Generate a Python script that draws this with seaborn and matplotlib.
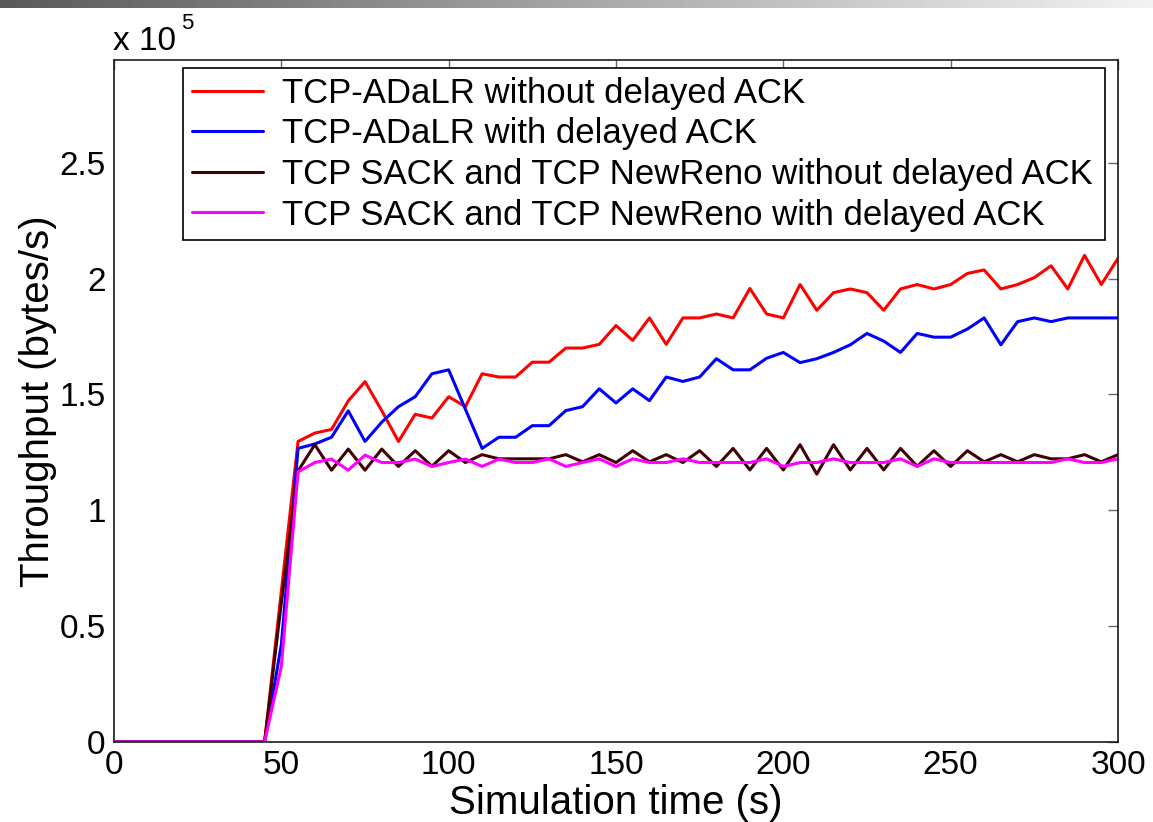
import numpy as np
import pandas as pd
import matplotlib
matplotlib.use("Agg")
import matplotlib.pyplot as plt
from matplotlib.legend_handler import HandlerLine2D
import seaborn as sns

# ---------------- data (throughput in units of 1e5 bytes/s) ----------------
time_s = list(range(0, 301, 5))
zeros = [0.0] * 10  # t = 0..45 s

adalr_no_delack = zeros + [
    0.65, 1.297, 1.333, 1.349, 1.472, 1.555, 1.43, 1.297, 1.414, 1.398,
    1.49, 1.447, 1.589, 1.575, 1.575, 1.639, 1.639, 1.70, 1.70, 1.716,
    1.797, 1.733, 1.83, 1.716, 1.83, 1.83, 1.847, 1.83, 1.957, 1.847,
    1.83, 1.974, 1.863, 1.939, 1.955, 1.939, 1.863, 1.955, 1.974, 1.955,
    1.974, 2.022, 2.037, 1.955, 1.974, 2.004, 2.055, 1.955, 2.10, 1.974,
    2.087]
adalr_delack = zeros + [
    0.42, 1.267, 1.286, 1.315, 1.429, 1.297, 1.38, 1.447, 1.49, 1.589,
    1.606, 1.436, 1.267, 1.315, 1.315, 1.365, 1.365, 1.43, 1.447, 1.524,
    1.463, 1.524, 1.473, 1.575, 1.556, 1.575, 1.654, 1.606, 1.606, 1.656,
    1.681, 1.637, 1.654, 1.681, 1.714, 1.763, 1.73, 1.681, 1.763, 1.747,
    1.747, 1.782, 1.83, 1.714, 1.814, 1.83, 1.814, 1.83, 1.83, 1.83,
    1.83]
sack_no_delack = zeros + [
    0.60, 1.17, 1.283, 1.173, 1.264, 1.173, 1.264, 1.189, 1.257, 1.19,
    1.257, 1.206, 1.24, 1.222, 1.222, 1.222, 1.222, 1.24, 1.209, 1.24,
    1.206, 1.257, 1.209, 1.24, 1.206, 1.257, 1.189, 1.267, 1.174, 1.267,
    1.174, 1.283, 1.156, 1.283, 1.174, 1.267, 1.174, 1.267, 1.19, 1.257,
    1.189, 1.257, 1.209, 1.24, 1.209, 1.24, 1.222, 1.222, 1.24, 1.209,
    1.24]
sack_delack = zeros + [
    0.326, 1.166, 1.206, 1.221, 1.173, 1.238, 1.206, 1.206, 1.221, 1.189,
    1.206, 1.221, 1.189, 1.221, 1.206, 1.206, 1.222, 1.189, 1.206, 1.222,
    1.189, 1.222, 1.206, 1.206, 1.222, 1.206, 1.206, 1.206, 1.206, 1.222,
    1.189, 1.206, 1.206, 1.222, 1.206, 1.206, 1.206, 1.222, 1.189, 1.222,
    1.206, 1.206, 1.206, 1.206, 1.206, 1.206, 1.206, 1.222, 1.206, 1.206,
    1.222]

series_names = [
    "TCP-ADaLR without delayed ACK",
    "TCP-ADaLR with delayed ACK",
    "TCP SACK and TCP NewReno without delayed ACK",
    "TCP SACK and TCP NewReno with delayed ACK",
]
series_colors = ["#FF0000", "#0000FF", "#420000", "#FF00FF"]
y_ticks = [0, 0.5, 1, 1.5, 2, 2.5]
y_tick_labels = ["0", "0.5", "1", "1.5", "2", "2.5"]
x_ticks = [0, 50, 100, 150, 200, 250, 300]
SCALE = 1e5

# ---------------- build long table ----------------
frames = []
for name, vals in zip(series_names,
                      [adalr_no_delack, adalr_delack, sack_no_delack, sack_delack]):
    frames.append(pd.DataFrame({"time": time_s,
                                "throughput": np.array(vals) * SCALE,
                                "series": name}))
df = pd.concat(frames, ignore_index=True)

# ---------------- style ----------------
sns.set_style("white")
plt.rcParams["font.family"] = ["Liberation Sans", "DejaVu Sans"]
plt.rcParams["text.color"] = "black"
plt.rcParams["axes.labelcolor"] = "black"

W, H = 1153, 822
fig = plt.figure(figsize=(W / 100, H / 100), dpi=100)
ax = fig.add_axes([114 / W, 1 - 742 / H, (1118 - 114) / W, (742 - 60) / H])

sns.lineplot(data=df, x="time", y="throughput", hue="series",
             hue_order=series_names, palette=series_colors,
             linewidth=2.2, ax=ax, legend=True)

ax.set_xlim(0, 300)
ax.set_ylim(0, 2.943 * SCALE)
ax.set_xticks(x_ticks)
ax.set_xticklabels([str(v) for v in x_ticks])
ax.set_yticks([v * SCALE for v in y_ticks])
ax.set_yticklabels(y_tick_labels)
ax.tick_params(axis="both", which="both", direction="in", length=7, width=1,
               color="#666666", labelsize=24, top=True, right=True,
               labelcolor="black", pad=6)
for sp in ax.spines.values():
    sp.set_visible(True)
    sp.set_color("#1a1a1a")
    sp.set_linewidth(1.2)

ax.set_xlabel("Simulation time (s)", fontsize=29, labelpad=2)
ax.set_ylabel("Throughput (bytes/s)", fontsize=29, labelpad=2)

# exponent label
fig.text(113 / W, 1 - 50 / H, "x 10", fontsize=24, ha="left", va="baseline")
fig.text(181 / W, 1 - 29 / H, "5", fontsize=16, ha="left", va="baseline")


class ShiftedLineHandler(HandlerLine2D):
    """Legend line drawn with a small gap on its left side."""
    def create_artists(self, legend, orig_handle, xdescent, ydescent,
                       width, height, fontsize, trans):
        arts = super().create_artists(legend, orig_handle, xdescent, ydescent,
                                      width, height, fontsize, trans)
        for a in arts:
            xd = np.asarray(a.get_xdata(), dtype=float)
            if xd.size == 2:
                a.set_xdata([xd[0] + 9, xd[1]])
        return arts


handles, labels = ax.get_legend_handles_labels()
leg = ax.legend(handles, labels, loc="upper left",
                bbox_to_anchor=(183 / W, 1 - 238 / H, (1105 - 183) / W, 170 / H),
                bbox_transform=fig.transFigure, mode="expand",
                handler_map={h: ShiftedLineHandler() for h in handles},
                fontsize=25, frameon=True, fancybox=False, framealpha=1,
                edgecolor="black", borderaxespad=0, borderpad=0.25,
                handlelength=2.05, handletextpad=0.55, labelspacing=0.22)
leg.get_frame().set_linewidth(1.2)
for line in leg.get_lines():
    line.set_linewidth(2.2)

# slide decoration bar at top
bar_ax = fig.add_axes([0, 1 - 8 / H, 1, 8 / H])
grad = np.linspace(0.35, 0.95, 256)[None, :]
bar_ax.imshow(grad, aspect="auto", cmap="gray", vmin=0, vmax=1)
bar_ax.set_axis_off()

fig.savefig("out.png", dpi=100)
